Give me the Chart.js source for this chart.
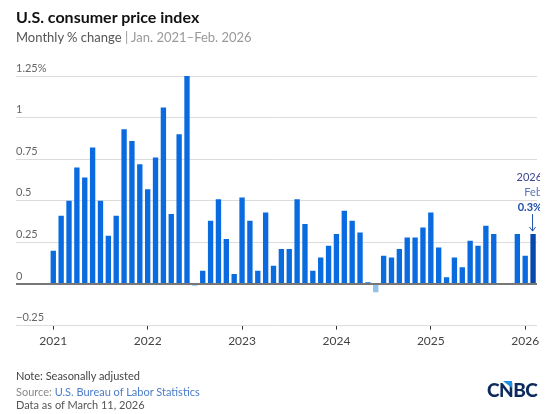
<!DOCTYPE html>
<html>
<head>
<meta charset="utf-8">
<script src="https://cdn.jsdelivr.net/npm/chart.js@4.4.1/dist/chart.umd.min.js"></script>
<style>
  html, body { margin: 0; padding: 0; background: #fff; }
  #wrap { position: relative; width: 550px; height: 414px; font-family: Lato, "Open Sans", sans-serif; }
  #wrap canvas { position: absolute; left: 0; top: 0; }
  .txt { position: absolute; white-space: nowrap; }
  #title { left: 16px; top: 7px; font-size: 16px; font-weight: bold; color: #111; }
  #subtitle { left: 16px; top: 29px; font-size: 13px; color: #555; }
  #subtitle span { color: #999; }
  #note { left: 16px; top: 369px; font-size: 11px; color: #444; }
  #source { left: 16px; top: 385px; font-size: 11px; color: #888; }
  #source span { color: #4a7cc9; }
  #asof { left: 16px; top: 398px; font-size: 11px; color: #555; }
  #logo { left: 487px; top: 378px; font-size: 19px; font-weight: 900; color: #0d2a5c; letter-spacing: -0.5px; }
  #tri { position: absolute; left: 503px; top: 381px; width: 0; height: 0;
         border-top: 7px solid #1a8fe0; border-left: 9px solid transparent; }
</style>
</head>
<body>
<div id="wrap">
  <canvas id="chart" width="550" height="414"></canvas>
  <div class="txt" id="title">U.S. consumer price index</div>
  <div class="txt" id="subtitle">Monthly % change <span>| Jan. 2021–Feb. 2026</span></div>
  <div class="txt" id="note">Note: Seasonally adjusted</div>
  <div class="txt" id="source">Source: <span>U.S. Bureau of Labor Statistics</span></div>
  <div class="txt" id="asof">Data as of March 11, 2026</div>
  <div class="txt" id="logo">CNBC</div>
  <div id="tri"></div>
</div>
<script>
// months Jan 2021 .. Feb 2026
const months = [
  '2021-01','2021-02','2021-03','2021-04','2021-05','2021-06','2021-07','2021-08','2021-09','2021-10','2021-11','2021-12',
  '2022-01','2022-02','2022-03','2022-04','2022-05','2022-06','2022-07','2022-08','2022-09','2022-10','2022-11','2022-12',
  '2023-01','2023-02','2023-03','2023-04','2023-05','2023-06','2023-07','2023-08','2023-09','2023-10','2023-11','2023-12',
  '2024-01','2024-02','2024-03','2024-04','2024-05','2024-06','2024-07','2024-08','2024-09','2024-10','2024-11','2024-12',
  '2025-01','2025-02','2025-03','2025-04','2025-05','2025-06','2025-07','2025-08','2025-09','2025-10','2025-11','2025-12',
  '2026-01','2026-02'
];

// monthly % change (Oct/Nov 2025 not published)
const cpiChange = [
  0.20, 0.41, 0.50, 0.70, 0.64, 0.82, 0.50, 0.29, 0.41, 0.93, 0.86, 0.72,
  0.57, 0.76, 1.06, 0.42, 0.90, 1.25, -0.01, 0.08, 0.38, 0.51, 0.27, 0.06,
  0.52, 0.38, 0.08, 0.43, 0.11, 0.21, 0.21, 0.51, 0.36, 0.08, 0.16, 0.23,
  0.30, 0.44, 0.38, 0.31, 0.01, -0.05, 0.17, 0.16, 0.21, 0.28, 0.28, 0.34,
  0.43, 0.22, 0.04, 0.16, 0.10, 0.26, 0.23, 0.35, 0.30, null, null, 0.30,
  0.17, 0.30
];

const yearTicks = [2021, 2022, 2023, 2024, 2025, 2026];
const yTicks = [-0.25, 0, 0.25, 0.5, 0.75, 1, 1.25];

const calloutLines = ['2026', 'Feb', '0.3%'];

const points = cpiChange.map((v, i) => ({ x: i, y: v }));
const lastIdx = cpiChange.length - 1;
const barColors = cpiChange.map((v, i) => {
  if (i === lastIdx) return '#0847ad';
  if (v !== null && v < 0) return '#92c1ea';
  return '#0a6be0';
});

const calloutPlugin = {
  id: 'callout',
  afterDatasetsDraw(chart) {
    const ctx = chart.ctx;
    const x = chart.scales.x.getPixelForValue(lastIdx);
    const yTop = chart.scales.y.getPixelForValue(cpiChange[lastIdx]);
    ctx.save();
    ctx.beginPath();
    ctx.rect(0, 0, 540, 414);
    ctx.clip();
    ctx.textAlign = 'right';
    ctx.textBaseline = 'middle';
    ctx.font = '11px Lato, sans-serif';
    ctx.fillStyle = '#3c4590';
    ctx.fillText(calloutLines[0], x + 9, yTop - 57);
    ctx.fillStyle = '#5a72bb';
    ctx.fillText(calloutLines[1], x + 9, yTop - 42);
    ctx.font = 'bold 11px Lato, sans-serif';
    ctx.fillStyle = '#1f4ea6';
    ctx.fillText(calloutLines[2], x + 9, yTop - 27);
    ctx.restore();
    // arrow
    ctx.save();
    ctx.strokeStyle = '#1f4ea6';
    ctx.lineWidth = 1;
    ctx.beginPath();
    ctx.moveTo(x - 0.5, yTop - 20);
    ctx.lineTo(x - 0.5, yTop - 3);
    ctx.moveTo(x - 3.5, yTop - 7);
    ctx.lineTo(x - 0.5, yTop - 3);
    ctx.lineTo(x + 2.5, yTop - 7);
    ctx.stroke();
    ctx.restore();
  }
};

new Chart(document.getElementById('chart'), {
  type: 'bar',
  data: {
    datasets: [{
      data: points,
      backgroundColor: barColors,
      borderWidth: 0,
      barPercentage: 0.68,
      categoryPercentage: 1
    }]
  },
  options: {
    responsive: false,
    animation: false,
    layout: { padding: { left: 16, right: 13, top: 76, bottom: 0 } },
    plugins: { legend: { display: false }, tooltip: { enabled: false } },
    scales: {
      x: {
        type: 'linear',
        min: -4.74,
        max: 61.5,
        offset: false,
        afterBuildTicks: (scale) => {
          scale.ticks = yearTicks.map((y, i) => ({ value: i * 12 }));
        },
        afterFit: (scale) => { scale.height = 88.4; },
        border: { display: false },
        grid: { offset: false, drawOnChartArea: false, drawTicks: true, tickLength: 4, color: '#333', lineWidth: 1 },
        ticks: {
          padding: 4,
          color: '#444',
          font: { family: 'Lato', size: 12 },
          maxRotation: 0,
          autoSkip: false,
          callback: (v) => String(2021 + Math.round(v / 12))
        }
      },
      y: {
        min: -0.25,
        max: 1.25,
        afterBuildTicks: (scale) => {
          scale.ticks = yTicks.map(v => ({ value: v }));
        },
        afterFit: (scale) => { scale.width = 0; },
        border: { display: false },
        grid: {
          drawTicks: false,
          color: (c) => c.tick && c.tick.value === 0 ? '#777' : '#dcdcdc',
          lineWidth: (c) => c.tick && c.tick.value === 0 ? 2 : 1
        },
        ticks: {
          mirror: true,
          padding: 0,
          labelOffset: -8,
          color: '#666',
          font: { family: 'Lato', size: 11 },
          callback: (v) => {
            if (v === 1.25) return '1.25%';
            if (v < 0) return '\u2212' + String(Math.abs(v));
            return String(v);
          }
        }
      }
    }
  },
  plugins: [calloutPlugin]
});
</script>
</body>
</html>
